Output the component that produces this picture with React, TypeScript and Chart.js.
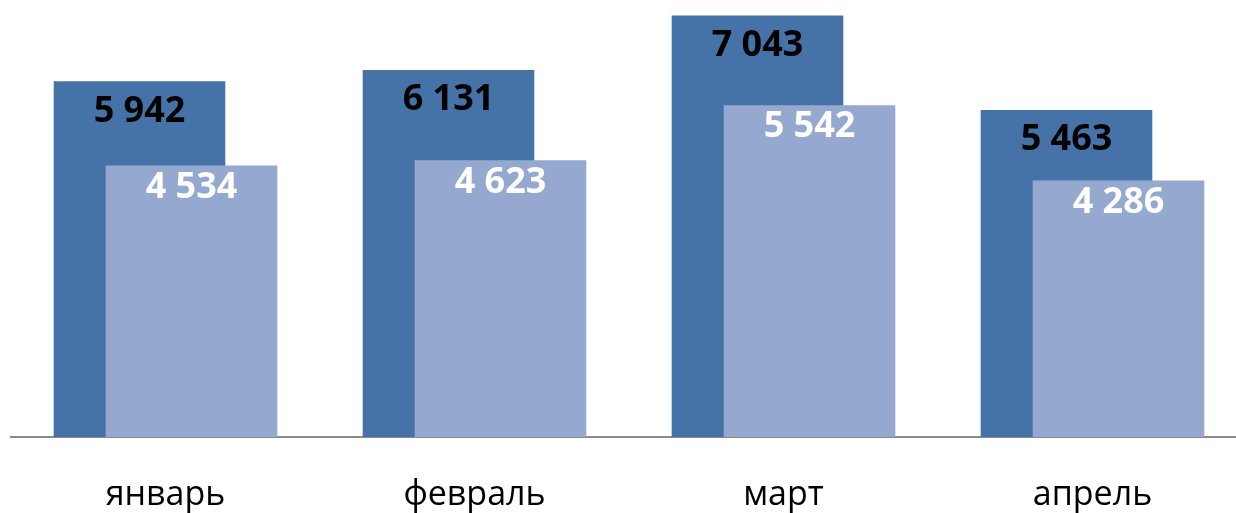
import React, { useEffect, useRef } from "react";
import { Chart, registerables } from "chart.js";

Chart.register(...registerables);

const categories = ["январь", "февраль", "март", "апрель"];
const seriesDark = [5942, 6131, 7043, 5463];
const seriesLight = [4534, 4623, 5542, 4286];
const valueLabels = (v: number) =>
  String(v).replace(/\B(?=(\d{3})+(?!\d))/g, " ");

const DARK = "#4673A7";
const LIGHT = "#95A9D0";

// draw the second (light) dataset on top of the first, then value labels
const layerPlugin = {
  id: "layerAndLabels",
  beforeDatasetDraw(chart: any, args: any) {
    if (args.index === 1 && !chart.$manualDraw) return false;
  },
  afterDatasetsDraw(chart: any) {
    const ctx = chart.ctx;
    const meta1 = chart.getDatasetMeta(1);
    chart.$manualDraw = true;
    ctx.save();
    meta1.controller.draw();
    ctx.restore();
    chart.$manualDraw = false;

    ctx.save();
    ctx.font = "bold 36px 'Open Sans'";
    ctx.textAlign = "center";
    ctx.textBaseline = "middle";
    chart.data.datasets.forEach((ds: any, di: number) => {
      const meta = chart.getDatasetMeta(di);
      meta.data.forEach((el: any, i: number) => {
        const v = ds.data[i] as number;
        ctx.fillStyle = di === 0 ? "#000000" : "#ffffff";
        const dy = di === 0 ? 30 : 22;
        ctx.fillText(valueLabels(v), el.x, el.y + dy);
      });
    });
    ctx.restore();
  },
};

export default function App() {
  const ref = useRef<HTMLCanvasElement | null>(null);
  useEffect(() => {
    document.body.style.margin = "0";
    const canvas = ref.current!;
    const chart = new Chart(canvas, {
      type: "bar",
      data: {
        labels: categories,
        datasets: [
          {
            data: seriesDark,
            backgroundColor: DARK,
            categoryPercentage: 0.3366,
            barPercentage: 3.3,
          },
          {
            data: seriesLight,
            backgroundColor: LIGHT,
            categoryPercentage: 0.3366,
            barPercentage: 3.3,
          },
        ],
      },
      options: {
        responsive: false,
        animation: false,
        devicePixelRatio: 1,
        layout: { padding: { left: 11, right: 0, top: 0, bottom: 0 } },
        plugins: {
          legend: { display: false },
          tooltip: { enabled: false },
        },
        scales: {
          x: {
            grid: { display: false, drawTicks: false },
            border: { display: true, color: "#8a8a8a", width: 2 },
            ticks: {
              color: "#000000",
              font: { family: "'Open Sans'", size: 34 },
              padding: 38,
            },
            afterFit: (s: any) => {
              s.height = 76;
            },
          },
          y: {
            display: false,
            min: 0,
            max: 7300,
          },
        },
      },
      plugins: [layerPlugin],
    });
    return () => chart.destroy();
  }, []);
  return (
    <div style={{ width: 1236, height: 513, overflow: "hidden", background: "#ffffff" }}>
      <canvas ref={ref} width={1247} height={513} style={{ display: "block" }} />
    </div>
  );
}
